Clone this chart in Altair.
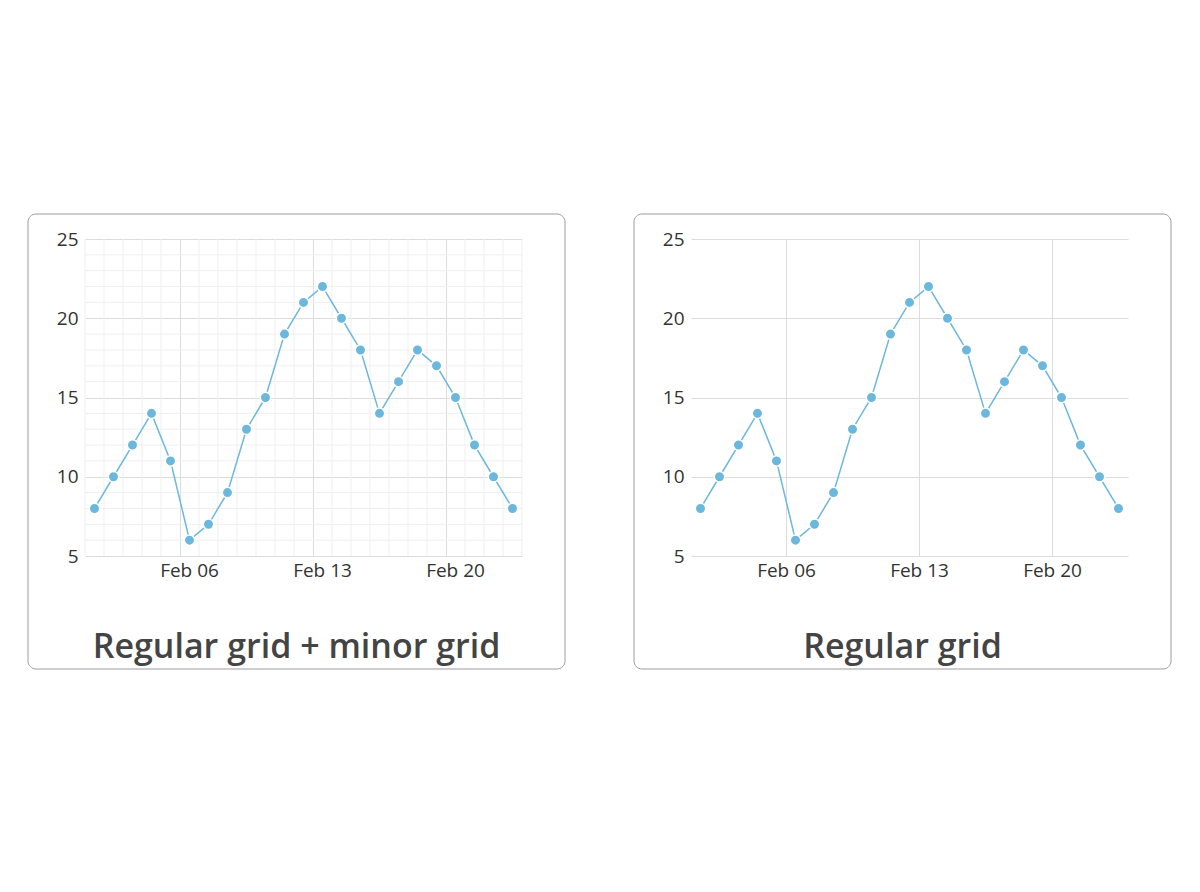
import altair as alt
import pandas as pd

# ---- data ----
days = [1, 2, 3, 4, 5, 6, 7, 8, 9, 10, 11, 12, 13, 14, 15, 16, 17, 18, 19, 20, 21, 22, 23]
values = [8, 10, 12, 14, 11, 6, 7, 9, 13, 15, 19, 21, 22, 20, 18, 14, 16, 18, 17, 15, 12, 10, 8]
major_days = [6, 13, 20]
major_y = [5, 10, 15, 20, 25]
minor_days = [1, 2, 3, 4, 5, 7, 8, 9, 10, 11, 12, 14, 15, 16, 17, 18, 19, 21, 22, 23, 24]
minor_y = [6, 7, 8, 9, 11, 12, 13, 14, 16, 17, 18, 19, 21, 22, 23, 24]
titles = ["Regular grid + minor grid", "Regular grid"]

df = pd.DataFrame({
    "date": [f"2022-02-{d:02d}T12:00:00" for d in days],
    "value": values,
})
minor_x_df = pd.DataFrame({"date": [f"2022-02-{d:02d}T00:00:00" for d in minor_days]})
minor_y_df = pd.DataFrame({"value": minor_y})

LINE = "#6cb8dc"
FONT = "Open Sans"
W, H = 437, 317

x_scale = alt.Scale(domain=[alt.DateTime(year=2022, month=2, date=1),
                            alt.DateTime(year=2022, month=2, date=24)])
y_scale = alt.Scale(domain=[5, 25], nice=False, zero=False)


def x_axis(label_offset):
    return alt.Axis(
        title=None,
        values=[alt.DateTime(year=2022, month=2, date=d) for d in major_days],
        format="%b %d",
        grid=True, gridColor="#dcdcdc", gridWidth=1,
        domain=False, ticks=False,
        labelFont=FONT, labelFontSize=19, labelColor="#333333",
        labelPadding=5, labelOffset=label_offset,
    )


y_axis = alt.Axis(
    title=None, values=major_y,
    grid=True, gridColor="#dcdcdc", gridWidth=1,
    domain=False, ticks=False,
    labelFont=FONT, labelFontSize=19, labelColor="#333333",
    labelPadding=7, minExtent=30, maxExtent=30,
)


def panel(minor, title, label_offset):
    X = alt.X("date:T", scale=x_scale, axis=x_axis(label_offset))
    Y = alt.Y("value:Q", scale=y_scale, axis=y_axis)

    frame = alt.Chart(pd.DataFrame({"k": [0]})).mark_rect(
        filled=False, stroke="#9c9c9c", strokeWidth=1, cornerRadius=8
    ).encode(x=alt.value(-57), x2=alt.value(480), y=alt.value(-25), y2=alt.value(430))

    layers = [frame]
    if minor:
        vminor = alt.Chart(minor_x_df).mark_rule(color="#efefef", strokeWidth=1).encode(
            x=X, y=alt.value(0), y2=alt.value(H))
        hminor = alt.Chart(minor_y_df).mark_rule(color="#efefef", strokeWidth=1).encode(
            y=Y, x=alt.value(0), x2=alt.value(W))
        layers += [vminor, hminor]

    base = alt.Chart(df).encode(x=X, y=Y)
    line = base.mark_line(color=LINE, strokeWidth=1.5)
    pts = base.mark_point(filled=True, size=110, color=LINE, opacity=1,
                          stroke="white", strokeWidth=1.5)
    ttl = alt.Chart(pd.DataFrame({"t": [title]})).mark_text(
        font=FONT, fontSize=34, fontWeight=600, color="#444444",
        baseline="alphabetic", align="center"
    ).encode(text="t:N", x=alt.value(211.5), y=alt.value(419))
    layers += [line, pts, ttl]
    return alt.layer(*layers).properties(width=W, height=H)


chart = alt.hconcat(
    panel(True, titles[0], 9),
    panel(False, titles[1], 0),
    spacing=169, bounds="flush",
).properties(
    padding={"left": 19, "top": 205, "right": 5, "bottom": 5}
).configure_view(stroke=None)

chart.save("out.html", embed_options={"renderer": "svg", "actions": False})
